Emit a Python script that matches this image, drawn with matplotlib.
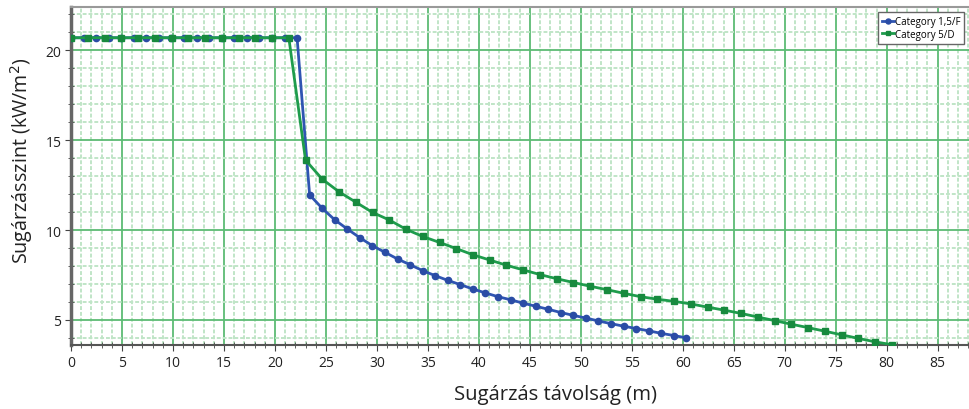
import matplotlib
matplotlib.use("Agg")
from matplotlib import pyplot as plt
from matplotlib.ticker import MultipleLocator

# Category 1,5/F
blue_x = [0.0, 1.23, 2.46, 3.69, 4.93, 6.16, 7.39, 8.62, 9.85, 11.08,
          12.32, 13.55, 14.78, 16.01, 17.24, 18.47, 19.71, 20.94, 22.17,
          23.40, 24.63, 25.86, 27.09, 28.33, 29.56, 30.79, 32.02, 33.25,
          34.49, 35.72, 36.95, 38.18, 39.41, 40.64, 41.88, 43.11, 44.34,
          45.57, 46.80, 48.04, 49.27, 50.50, 51.73, 52.96, 54.19, 55.43,
          56.66, 57.89, 59.12, 60.35]
blue_y = [20.7] * 19 + [11.96, 11.21, 10.57, 10.06, 9.57, 9.13, 8.76, 8.39,
          8.07, 7.74, 7.46, 7.20, 6.96, 6.72, 6.50, 6.29, 6.12, 5.93, 5.76,
          5.59, 5.41, 5.25, 5.10, 4.94, 4.79, 4.65, 4.52, 4.39, 4.25, 4.13,
          4.00]

# Category 5/D
green_x = [0.0, 1.64, 3.29, 4.93, 6.57, 8.21, 9.86, 11.50, 13.14, 14.79,
           16.43, 18.07, 19.71, 21.36,
           23.00, 24.64, 26.28, 27.93, 29.57, 31.21, 32.86, 34.50, 36.14,
           37.78, 39.43, 41.07, 42.71, 44.36, 46.00, 47.64, 49.28, 50.93,
           52.57, 54.21, 55.86, 57.50, 59.14, 60.78, 62.43, 64.07, 65.71,
           67.35, 69.00, 70.64, 72.28, 73.93, 75.57, 77.21, 78.85, 80.50]
green_y = [20.7] * 14 + [13.89, 12.83, 12.13, 11.55, 10.98, 10.56, 10.04,
           9.64, 9.31, 8.97, 8.62, 8.33, 8.04, 7.78, 7.52, 7.29, 7.08, 6.87,
           6.68, 6.48, 6.29, 6.15, 6.03, 5.89, 5.71, 5.54, 5.36, 5.16, 4.96,
           4.76, 4.57, 4.37, 4.17, 3.97, 3.78, 3.62]

labels = ["Category 1,5/F", "Category 5/D"]

plt.rcParams['font.family'] = ['Open Sans', 'DejaVu Sans']

fig = plt.figure(figsize=(9.69, 4.10), dpi=100)
ax = fig.add_axes([0.0733, 0.156, 0.927, 0.824])

major_c = '#5dbb74'
minor_c = '#c0e5c7'

ax.set_xlim(0, 88.1)
ax.set_ylim(3.6, 22.4)
ax.xaxis.set_major_locator(MultipleLocator(5))
ax.xaxis.set_minor_locator(MultipleLocator(1))
ax.yaxis.set_major_locator(MultipleLocator(5))
ax.yaxis.set_minor_locator(MultipleLocator(1))

ax.grid(which='minor', color=minor_c, lw=1.4, ls=(0, (2, 1)), zorder=0)
ax.grid(which='major', color=major_c, lw=1.3, zorder=1)
ax.set_axisbelow(True)

ax.plot(blue_x, blue_y, color='#2f55b2', lw=2, marker='o', ms=4.5,
        mfc='#2a4ca5', mec='#2a4ca5', label=labels[0], zorder=3)
ax.plot(green_x, green_y, color='#1e9c4c', lw=2, marker='s', ms=4,
        mfc='#178a3e', mec='#178a3e', label=labels[1], zorder=4)

ax.spines['right'].set_visible(False)
ax.spines['top'].set_color('#999999')
ax.spines['top'].set_linewidth(1.5)
ax.spines['left'].set_color('#666666')
ax.spines['left'].set_linewidth(2.5)
ax.spines['bottom'].set_color('#555555')
ax.spines['bottom'].set_linewidth(1.5)

ax.tick_params(which='major', direction='out', length=4, color='#444444',
               labelsize=10, labelcolor='#222222', pad=3)
ax.tick_params(which='minor', direction='inout', length=4, color='#444444')
ax.tick_params(axis='x', which='both', top=False)

ax.set_xlabel('Sugárzás távolság (m)', fontsize=14.6, color='#222222')
ax.xaxis.set_label_coords(0.539, -0.115)
ax.set_ylabel('Sugárzásszint (kW/m$^2$)', fontsize=14.2, color='#222222')
ax.yaxis.set_label_coords(-0.04, 0.55)

leg = ax.legend(loc='upper right', fontsize=7, handlelength=1.2,
                handletextpad=0.1, borderpad=0.4, labelspacing=0.2,
                fancybox=False, framealpha=1, markerscale=0.8)
leg.get_frame().set_edgecolor('#666666')
leg.get_frame().set_linewidth(1.0)

fig.savefig('out.png', dpi=100)
